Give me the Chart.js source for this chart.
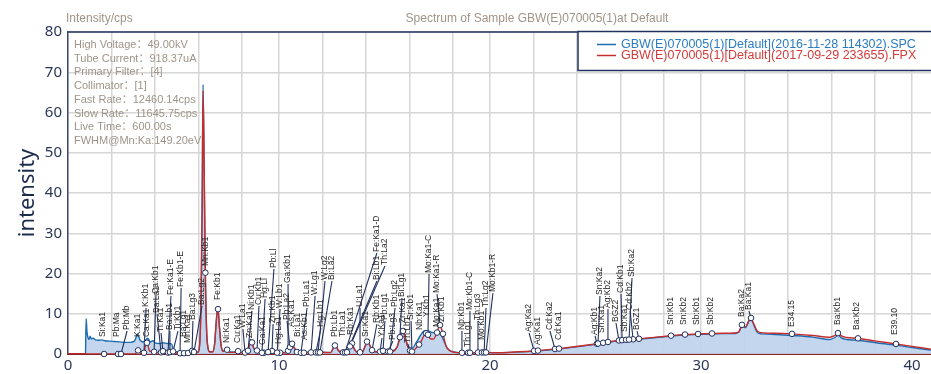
<!DOCTYPE html>
<html>
<head>
<meta charset="utf-8">
<title>Spectrum of Sample GBW(E)070005(1)</title>
<script src="https://cdn.jsdelivr.net/npm/chart.js@4/dist/chart.umd.min.js"></script>
<style>
  html, body { margin: 0; padding: 0; background: #ffffff; }
  #chart { display: block; }
</style>
</head>
<body>
<canvas id="chart" width="931" height="374"></canvas>
<script>
// ---- spectrum names ----
const spcName = 'GBW(E)070005(1)[Default](2016-11-28 114302).SPC';
const fpxName = 'GBW(E)070005(1)[Default](2017-09-29 233655).FPX';
const chartTitle = 'Spectrum of Sample GBW(E)070005(1)at Default';
const unitLabel = 'Intensity/cps';
const axisTitle = 'intensity';

// ---- measurement conditions ----
const infoLines = [
  'High Voltage：49.00kV',
  'Tube Current：918.37uA',
  'Primary Filter：[4]',
  'Collimator：[1]',
  'Fast Rate：12460.14cps',
  'Slow Rate：11645.75cps',
  'Live Time：600.00s',
  'FWHM@Mn:Ka:149.20eV'
];

// ---- SPC spectrum (keV, cps) ----
const spcEnergy = [
  0.83, 0.86, 0.90, 0.95, 1.00, 1.05, 1.10, 1.20, 1.30, 1.45,
  1.60, 1.75, 1.95, 2.20, 2.45, 2.70, 2.95, 3.15, 3.30, 3.40,
  3.55, 3.70, 3.78, 3.90, 4.02, 4.15, 4.35, 4.50, 4.70, 4.90,
  5.00, 5.10, 5.40, 5.75, 5.90, 6.05, 6.16, 6.25, 6.31, 6.36,
  6.40, 6.45, 6.51, 6.57, 6.63, 6.72, 6.85, 6.95, 7.02, 7.10,
  7.18, 7.26, 7.36, 7.50, 7.62, 7.90, 8.05, 8.18, 8.50, 8.60,
  8.70, 8.80, 8.95, 9.10, 9.50, 9.62, 9.75, 10.30, 10.48, 10.60,
  10.72, 10.85, 11.00, 11.70, 12.45, 12.58, 12.68, 12.80, 12.95, 13.20,
  13.33, 13.44, 13.56, 13.70, 13.95, 14.08, 14.20, 14.32, 14.45, 14.70,
  14.95, 15.10, 15.35, 15.60, 15.75, 15.86, 15.98, 16.12, 16.30, 16.50,
  16.70, 16.90, 17.10, 17.30, 17.50, 17.65, 17.80, 17.95, 18.15, 18.50,
  19.00, 19.50, 20.00, 21.00, 22.00, 23.00, 24.00, 25.00, 26.00, 27.00,
  28.00, 29.00, 30.00, 31.00, 31.60, 31.80, 31.96, 32.10, 32.22, 32.35,
  32.50, 32.65, 32.85, 33.50, 34.30, 35.30, 36.10, 36.35, 36.50, 36.65,
  36.90, 37.42, 38.30, 39.24, 40.00, 40.90
];
const spcCounts = [
  0, 8.8, 5.5, 4.0, 3.6, 4.4, 3.8, 3.9, 3.5, 3.4,
  3.5, 3.3, 3.2, 3.1, 3.0, 2.9, 2.9, 3.2, 4.9, 3.6,
  3.0, 3.6, 3.9, 3.0, 3.3, 2.7, 2.6, 2.8, 2.6, 2.5,
  1.2, 0.6, 0.5, 0.6, 0.9, 0.5, 0.5, 3.5, 16, 40,
  67, 47, 19, 5.5, 1.6, 0.6, 0.6, 2.6, 7.8, 11.6,
  6.6, 2.0, 0.7, 1.4, 0.5, 0.5, 0.8, 0.4, 0.6, 2.2,
  3.0, 1.4, 0.9, 0.4, 0.6, 1.0, 0.5, 0.4, 1.3, 2.8,
  1.6, 0.6, 0.4, 0.5, 0.4, 1.5, 2.1, 0.9, 0.4, 0.4,
  1.5, 2.6, 1.3, 0.4, 0.5, 1.9, 3.0, 1.9, 0.7, 0.5,
  0.8, 0.6, 0.7, 1.8, 4.4, 5.6, 4.1, 1.8, 1.4, 2.8,
  4.6, 5.8, 5.7, 5.3, 5.6, 5.1, 3.4, 1.6, 0.7, 0.35,
  0.3, 0.35, 0.3, 0.4, 0.65, 1.1, 1.7, 2.4, 3.2, 3.65,
  4.15, 4.65, 4.9, 5.05, 5.1, 5.5, 7.1, 6.5, 7.6, 8.8,
  7.3, 5.5, 5.0, 4.85, 4.6, 4.2, 3.6, 4.1, 4.7, 4.0,
  3.6, 3.4, 2.8, 2.2, 1.6, 1.0
];

// ---- FPX spectrum (keV, cps) ----
const fpxEnergy = [
  0.00, 3.10, 3.22, 3.32, 3.42, 3.60, 3.68, 3.75, 3.85, 3.95,
  4.02, 4.12, 4.40, 4.50, 4.62, 4.85, 4.95, 5.10, 5.50, 5.80,
  5.90, 6.02, 6.16, 6.25, 6.31, 6.36, 6.40, 6.45, 6.51, 6.57,
  6.63, 6.72, 6.85, 6.95, 7.02, 7.10, 7.18, 7.26, 7.36, 7.50,
  7.62, 7.90, 8.05, 8.18, 8.50, 8.60, 8.70, 8.80, 8.95, 9.10,
  9.50, 9.62, 9.75, 10.30, 10.48, 10.60, 10.72, 10.85, 11.00, 11.70,
  12.45, 12.58, 12.68, 12.80, 12.95, 13.20, 13.33, 13.44, 13.56, 13.70,
  13.95, 14.08, 14.20, 14.32, 14.45, 14.70, 14.95, 15.10, 15.35, 15.60,
  15.75, 15.86, 15.98, 16.12, 16.30, 16.50, 16.70, 16.90, 17.00, 17.15,
  17.32, 17.48, 17.62, 17.76, 17.92, 18.10, 18.40, 18.80, 19.30, 19.80,
  20.50, 21.00, 22.00, 23.00, 24.00, 25.00, 26.00, 27.00, 28.00, 29.00,
  30.00, 31.00, 31.60, 31.80, 31.96, 32.10, 32.22, 32.35, 32.50, 32.65,
  32.85, 33.50, 34.30, 35.30, 36.10, 36.35, 36.50, 36.65, 36.90, 37.42,
  38.30, 39.24, 40.00, 40.90
];
const fpxCounts = [
  0, 0, 0.2, 0.9, 0.2, 0.3, 2.2, 2.8, 0.9, 0.6,
  1.0, 0.3, 0.4, 0.7, 0.3, 0.5, 0.7, 0.2, 0.2, 0.4,
  0.8, 0.3, 0.4, 3.0, 14, 36, 65.5, 48, 20.2, 6,
  1.8, 0.5, 0.5, 2.5, 7.5, 11.3, 6.4, 2.0, 0.6, 1.3,
  0.4, 0.4, 0.7, 0.3, 0.5, 2.2, 3.0, 1.5, 0.9, 0.3,
  0.5, 0.9, 0.4, 0.3, 1.2, 2.6, 1.5, 0.5, 0.3, 0.4,
  0.35, 1.6, 2.2, 1.0, 0.4, 0.4, 1.5, 2.7, 1.4, 0.4,
  0.5, 2.0, 3.2, 2.0, 0.7, 0.5, 0.8, 0.6, 0.6, 1.8,
  4.5, 5.8, 4.2, 1.6, 0.6, 1.5, 2.8, 4.8, 5.2, 3.9,
  3.7, 5.2, 7.2, 5.2, 2.0, 0.8, 0.35, 0.3, 0.35, 0.4,
  0.3, 0.45, 0.75, 1.2, 1.8, 2.5, 3.3, 3.75, 4.25, 4.75,
  5.0, 5.15, 5.2, 5.6, 7.3, 6.7, 7.8, 9.0, 7.5, 5.8,
  5.3, 5.15, 5.0, 4.6, 4.15, 4.6, 5.2, 4.5, 4.1, 3.9,
  3.2, 2.5, 1.9, 1.2
];

// ---- line identification tags: name, line energy (keV), label anchor (keV, cps) ----
const tagNames = [
  'Si:Ka1', 'Pb:Ma', 'Pb:Mb', 'K:Ka1', 'K:Kb1', 'Ca:Ka1', 'Ca:Kb1', 'Ba:La1', 'Ti:Ka1', 'Fe:Ka1-E',
  'Ba:Lb1', 'Ti:Kb1', 'Fe:Kb1-E', 'Ba:Lg1', 'Mn:Ka1', 'Ba:Lg3', 'Ba:Lg2', 'Mn:Kb1', 'Fe:Kb1', 'Ni:Ka1',
  'Cu:Ka1', 'W:La1', 'Zn:Ka1', 'Ni:Kb1', 'Cu:Kb1', 'Ga:Ka1', 'Hg:Ll', 'Zn:Kb1', 'Pb:Ll', 'Hg:La1',
  'W:Lb1', 'Ga:Kb1', 'Pb:La2', 'As:Ka1', 'Bi:La1', 'Pb:La1', 'As:Kb1', 'W:Lg1', 'Hg:Lb1', 'W:Lg2',
  'Bi:La2', 'Pb:Lb1', 'Th:La1', 'Rb:Ka1', 'U:La1', 'Sr:Ka1', 'Fe:Ka1-D', 'Bi:Lb1', 'Th:La2', 'Rb:Kb1',
  'Y:Ka1', 'Pb:Lg1', 'Pb:Lg3', 'Pb:Lg2', 'Bi:Lg1', 'Zr:Ka1', 'Th:Lb1', 'Sr:Kb1', 'Nb:Ka1', 'Y:Kb1',
  'Mo:Ka1-C', 'Mo:Ka1-R', 'Mo:Ka1', 'Zr:Kb1', 'Nb:Kb1', 'Th:Lg1', 'Mo:Kb1-C', 'Th:Lg3', 'Mo:Kb1', 'Th:Lg2',
  'Mo:Kb1-R', 'Ag:Ka2', 'Ag:Ka1', 'Cd:Ka2', 'Cd:Ka1', 'Ag:Kb1', 'Sn:Ka2', 'Sn:Ka1', 'Ag:Kb2', 'BGZ2',
  'Cd:Kb1', 'Sb:Ka1', 'Cd:Kb2', 'Sb:Ka2', 'BGZ1', 'Sn:Kb1', 'Sn:Kb2', 'Sb:Kb1', 'Sb:Kb2', 'Ba:Ka2',
  'Ba:Ka1', 'E34.15', 'Ba:Kb1', 'Ba:Kb2', 'E39.10'
];
const tagEnergy = [
  1.71, 2.37, 2.51, 3.32, 3.60, 3.74, 4.08, 4.41, 4.50, 4.74,
  4.83, 4.98, 5.31, 5.50, 5.69, 5.88, 5.97, 6.51, 7.11, 7.54,
  8.06, 8.39, 8.72, 8.53, 8.96, 9.29, 9.19, 9.67, 9.48, 10.05,
  9.91, 10.43, 10.52, 10.62, 10.85, 11.04, 11.18, 11.52, 11.75, 11.85,
  11.94, 12.65, 13.03, 13.46, 13.84, 14.17, 13.13, 13.22, 13.36, 14.41,
  14.79, 14.93, 15.17, 15.26, 15.73, 15.88, 16.21, 16.30, 16.64, 16.97,
  17.06, 17.63, 17.49, 17.77, 18.67, 18.96, 19.05, 19.43, 19.62, 19.72,
  19.81, 22.09, 22.27, 23.08, 23.27, 25.07, 25.12, 25.36, 25.59, 26.11,
  26.26, 26.45, 26.78, 26.59, 27.06, 28.58, 29.24, 29.86, 30.52, 31.94,
  32.37, 34.31, 36.49, 37.44, 39.24
];
const tagTextEnergy = [
  1.66, 2.32, 2.80, 3.32, 3.70, 3.74, 4.17, 4.22, 4.41, 4.88,
  4.83, 5.21, 5.36, 5.50, 5.69, 5.92, 6.35, 6.52, 7.11, 7.54,
  8.06, 8.29, 8.63, 8.72, 9.05, 9.24, 9.34, 9.72, 9.76, 10.00,
  10.05, 10.43, 10.38, 10.62, 10.90, 11.33, 11.23, 11.71, 11.99, 12.18,
  12.51, 12.65, 13.03, 13.41, 13.84, 14.12, 14.64, 14.64, 15.02, 14.64,
  14.88, 15.02, 15.40, 15.50, 15.83, 15.88, 16.11, 16.26, 16.68, 17.01,
  17.11, 17.49, 17.49, 17.73, 18.67, 18.96, 19.05, 19.43, 19.62, 19.81,
  20.14, 21.85, 22.27, 22.84, 23.27, 24.98, 25.21, 25.31, 25.59, 25.97,
  26.21, 26.40, 26.64, 26.73, 26.97, 28.58, 29.19, 29.81, 30.47, 31.94,
  32.27, 34.31, 36.49, 37.39, 39.19
];
const tagTextLevel = [
  4.22, 4.22, 5.96, 4.22, 11.68, 4.22, 14.91, 10.19, 5.47, 14.66,
  5.96, 5.96, 16.65, 4.22, 2.73, 8.45, 12.17, 21.86, 13.42, 2.73,
  2.73, 6.46, 3.98, 10.93, 12.17, 2.24, 13.90, 7.70, 21.37, 2.48,
  11.43, 17.64, 8.45, 6.71, 4.22, 11.68, 3.48, 14.66, 6.71, 18.39,
  18.39, 4.22, 4.22, 4.72, 11.68, 4.22, 25.34, 18.39, 22.11, 7.70,
  4.22, 8.45, 3.48, 11.68, 14.16, 7.70, 2.73, 8.45, 5.96, 9.19,
  20.12, 15.16, 6.71, 7.95, 5.96, 1.74, 10.93, 8.45, 3.48, 11.68,
  15.40, 5.47, 2.24, 5.96, 3.48, 4.72, 14.66, 5.22, 11.43, 7.95,
  15.16, 5.47, 10.93, 19.13, 5.96, 7.20, 7.20, 7.20, 7.20, 9.19,
  10.93, 6.71, 7.20, 5.96, 4.72
];

// ---- axes ----
const xMajorTicks = [0, 10, 20, 30, 40];
const xMinorSteps = [2.08, 4.13, 6.18, 8.25];
const xRange = [0, 40.9];
const yRange = [0, 80];

const toPoints = (xs, ys) => xs.map((x, i) => ({ x, y: ys[i] }));

const TAN = '#a09489';
const NAVY = '#22325e';

const decor = {
  id: 'decor',
  beforeDraw(c) {
    const ctx = c.ctx;
    ctx.save();
    ctx.fillStyle = '#ffffff';
    ctx.fillRect(0, 0, c.width, c.height);
    ctx.restore();
  },
  afterDatasetsDraw(c) {
    const ctx = c.ctx;
    const xs = c.scales.x, ys = c.scales.y;
    const line = c.getDatasetMeta(0).dataset;
    const items = tagNames.map((name, i) => {
      const mx = xs.getPixelForValue(tagEnergy[i]);
      let p = line.interpolate({ x: mx }, 'x');
      if (Array.isArray(p)) p = p[0];
      const my = p ? p.y : ys.getPixelForValue(0);
      return {
        name, mx, my,
        tx: xs.getPixelForValue(tagTextEnergy[i]),
        ty: ys.getPixelForValue(tagTextLevel[i])
      };
    });
    ctx.save();
    // leader lines for displaced labels
    ctx.strokeStyle = NAVY;
    ctx.lineWidth = 1.1;
    items.forEach(t => {
      if (Math.abs(t.tx - t.mx) > 1.5 || t.my - t.ty > 20) {
        ctx.beginPath();
        ctx.moveTo(t.mx, t.my);
        ctx.lineTo(t.tx, t.ty + 1);
        ctx.stroke();
      }
    });
    // line markers on the FPX curve
    ctx.lineWidth = 1;
    items.forEach(t => {
      ctx.beginPath();
      ctx.arc(t.mx, t.my, 2.8, 0, Math.PI * 2);
      ctx.fillStyle = '#ffffff';
      ctx.fill();
      ctx.strokeStyle = NAVY;
      ctx.stroke();
    });
    // vertical labels
    ctx.fillStyle = '#262626';
    ctx.font = '8.5px "Liberation Sans", Arial, sans-serif';
    ctx.textAlign = 'left';
    ctx.textBaseline = 'middle';
    items.forEach(t => {
      ctx.save();
      ctx.translate(t.tx, t.ty);
      ctx.rotate(-Math.PI / 2);
      ctx.fillText(t.name, 0, 0);
      ctx.restore();
    });
    ctx.restore();
  },
  afterDraw(c) {
    const ctx = c.ctx;
    const a = c.chartArea;
    ctx.save();
    // frame top edge
    ctx.strokeStyle = NAVY;
    ctx.lineWidth = 1.5;
    ctx.beginPath();
    ctx.moveTo(a.left, a.top);
    ctx.lineTo(a.right, a.top);
    ctx.stroke();

    // headings
    ctx.fillStyle = TAN;
    ctx.textBaseline = 'middle';
    ctx.font = '12px "Liberation Sans", Arial, sans-serif';
    ctx.textAlign = 'left';
    ctx.fillText(unitLabel, a.left - 2, 19);
    ctx.textAlign = 'center';
    ctx.fillText(chartTitle, 537, 19);

    // measurement conditions
    ctx.textAlign = 'left';
    ctx.font = '11px "Liberation Sans", Arial, "Noto Sans CJK SC", sans-serif';
    infoLines.forEach((s, i) => ctx.fillText(s, a.left + 6, 45 + i * 13.7));

    // legend box
    const bx = a.right - 353, by = a.top - 0.5, bw = 360, bh = 39;
    ctx.fillStyle = '#ffffff';
    ctx.fillRect(bx, by, bw, bh);
    ctx.strokeStyle = NAVY;
    ctx.lineWidth = 1.5;
    ctx.strokeRect(bx, by, bw, bh);
    ctx.font = '12.5px "Liberation Sans", Arial, sans-serif';
    [1, 0].forEach((di, row) => {
      const ds = c.data.datasets[di];
      const y = by + 13 + row * 11;
      ctx.strokeStyle = ds.borderColor;
      ctx.lineWidth = 1.5;
      ctx.beginPath();
      ctx.moveTo(bx + 19, y);
      ctx.lineTo(bx + 38, y);
      ctx.stroke();
      ctx.fillStyle = ds.legendTextColor;
      ctx.fillText(ds.label, bx + 43, y);
    });
    ctx.restore();
  }
};

new Chart(document.getElementById('chart'), {
  type: 'line',
  data: {
    datasets: [
      {
        label: fpxName,
        data: toPoints(fpxEnergy, fpxCounts),
        borderColor: '#c62d2d',
        legendTextColor: '#d43b3b',
        borderWidth: 1.4,
        pointRadius: 0,
        fill: false,
        cubicInterpolationMode: 'monotone'
      },
      {
        label: spcName,
        data: toPoints(spcEnergy, spcCounts),
        borderColor: '#1d6cb0',
        legendTextColor: '#2a7cc2',
        backgroundColor: 'rgba(190,211,237,0.92)',
        borderWidth: 1.4,
        pointRadius: 0,
        fill: 'origin',
        cubicInterpolationMode: 'monotone'
      }
    ]
  },
  options: {
    responsive: false,
    animation: false,
    devicePixelRatio: 1,
    layout: { padding: { top: 32, left: 0, right: 0, bottom: 0 } },
    plugins: { legend: { display: false }, tooltip: { enabled: false } },
    scales: {
      x: {
        type: 'linear',
        min: xRange[0],
        max: xRange[1],
        afterBuildTicks(s) {
          const vals = [];
          xMajorTicks.forEach(m => {
            vals.push(m);
            xMinorSteps.forEach(d => { if (m + d <= xRange[1]) vals.push(m + d); });
          });
          s.ticks = vals.map(v => ({ value: v }));
        },
        afterFit(s) { s.height = 20; },
        ticks: {
          autoSkip: false,
          maxRotation: 0,
          minRotation: 0,
          padding: 3,
          color: '#2b3757',
          font: { family: '"Noto Sans", sans-serif', size: 15 },
          callback: v => (xMajorTicks.includes(v) ? String(v) : '')
        },
        grid: { color: '#d6d6d6', lineWidth: 1.5, drawTicks: false },
        border: { color: '#8a2424', width: 2 }
      },
      y: {
        min: yRange[0],
        max: yRange[1],
        afterFit(s) { s.width = 68; },
        ticks: {
          stepSize: 5,
          padding: 6,
          color: '#2b3757',
          font: { family: '"Noto Sans", sans-serif', size: 15 },
          callback: v => (v % 10 === 0 ? String(v) : '')
        },
        title: {
          display: true,
          text: axisTitle,
          color: '#1d2b4d',
          font: { family: '"Noto Sans", sans-serif', size: 22 },
          padding: { top: 15, bottom: 0 }
        },
        grid: { color: '#d6d6d6', lineWidth: 1.5, drawTicks: false },
        border: { color: '#3a4a6e', width: 1.5 }
      }
    }
  },
  plugins: [decor]
});
</script>
</body>
</html>
